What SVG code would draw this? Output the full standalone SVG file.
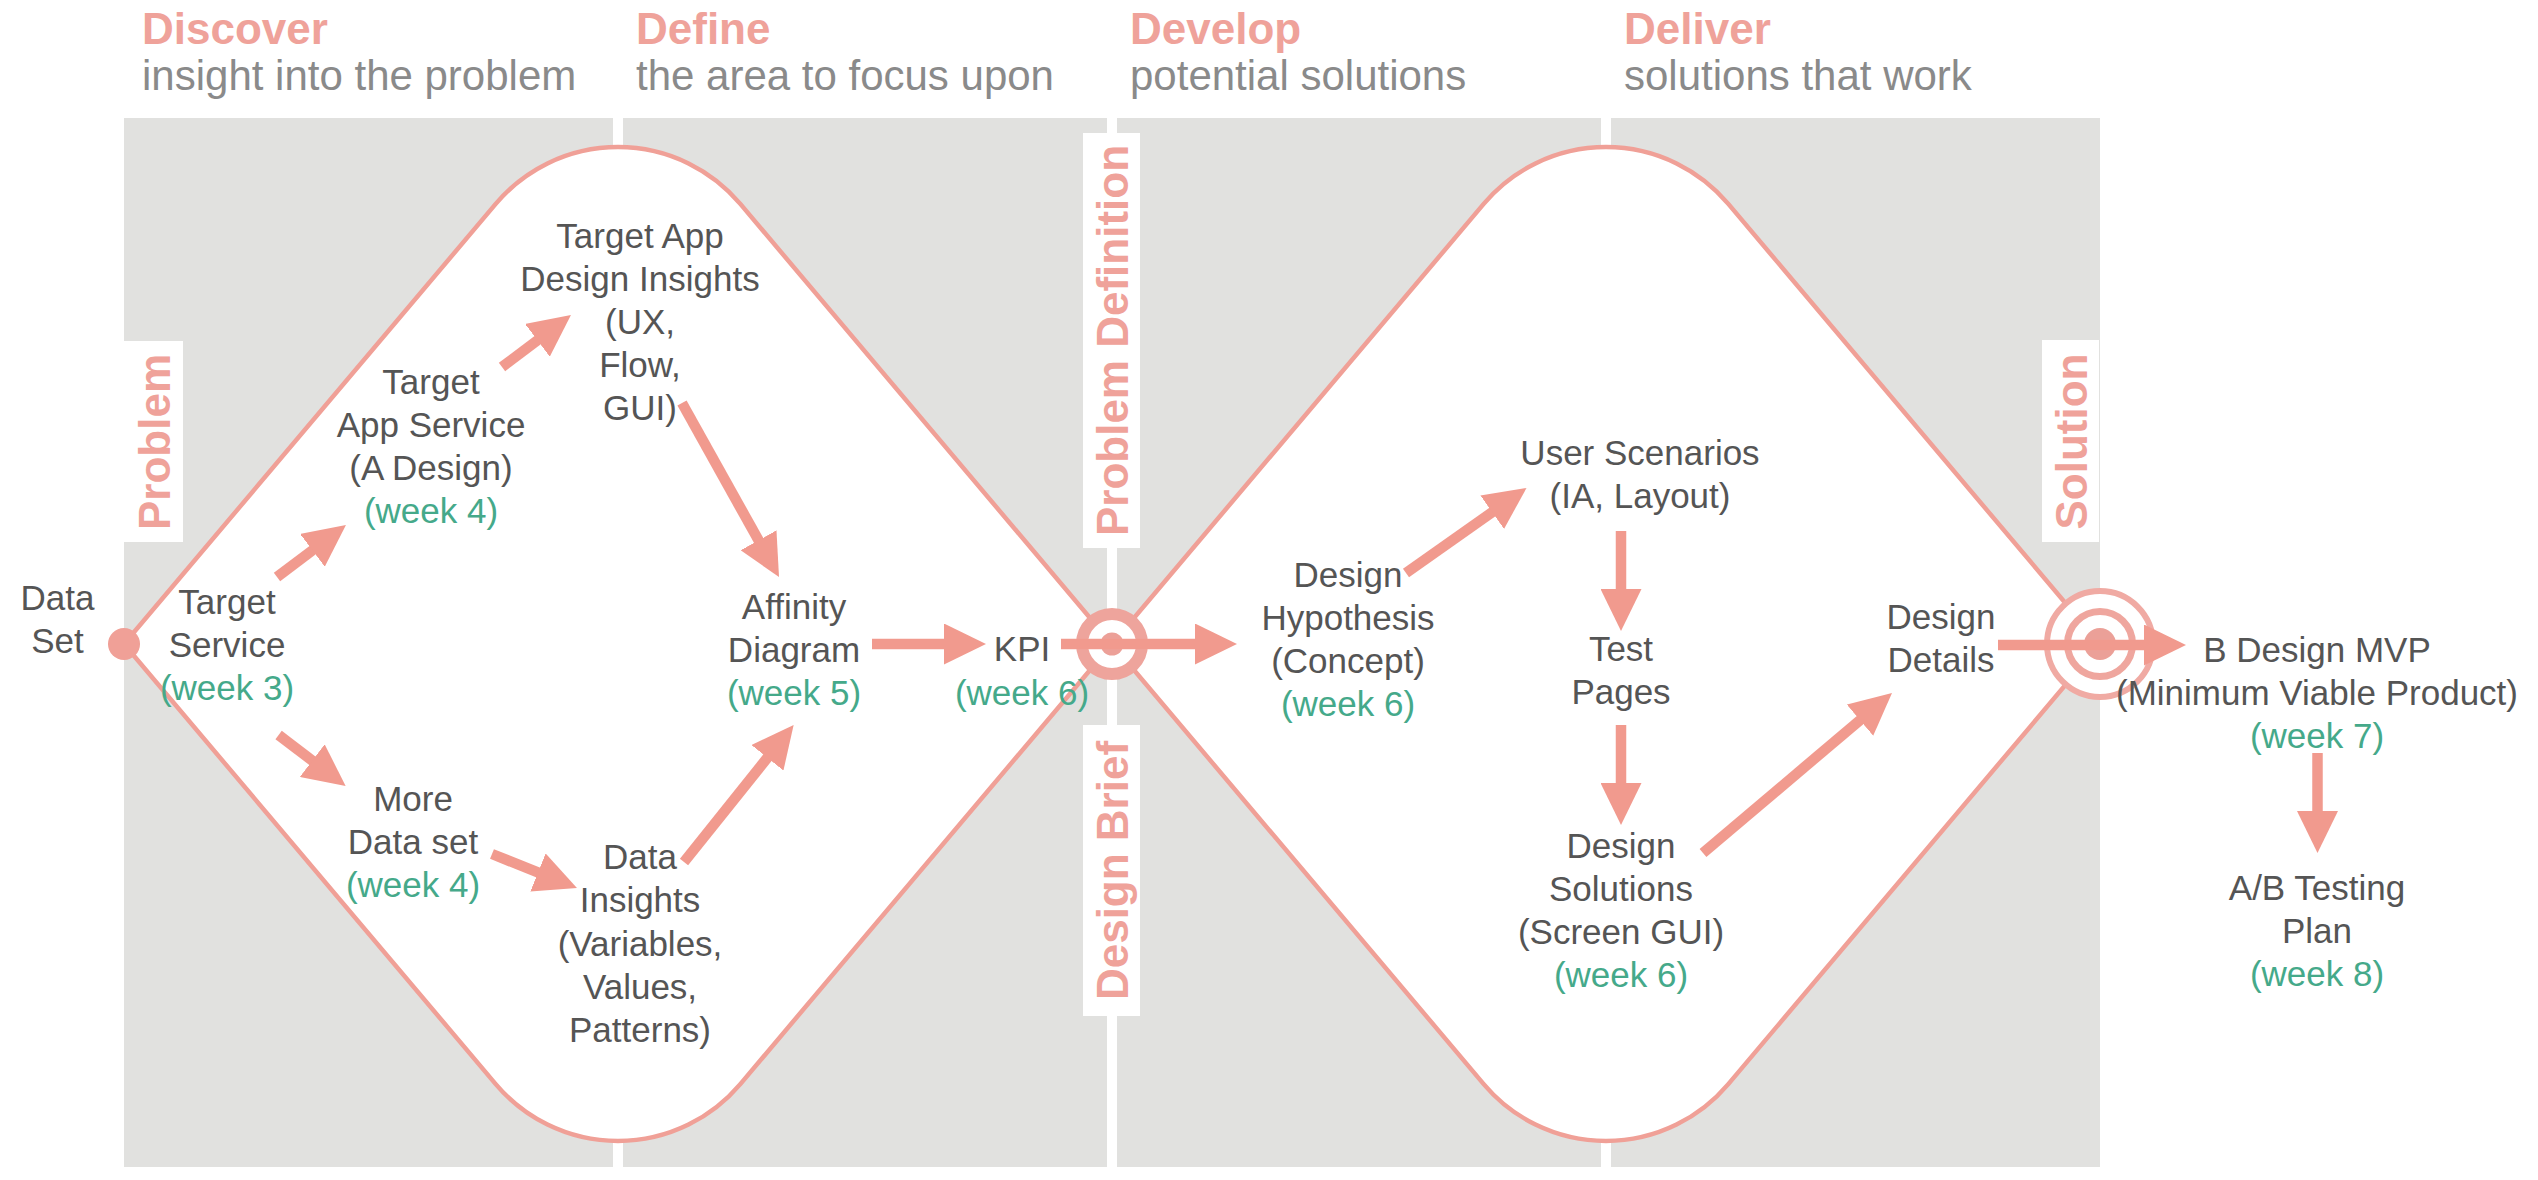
<svg xmlns="http://www.w3.org/2000/svg" width="2538" height="1180" viewBox="0 0 2538 1180">
  <style>
    text { font-family: "Liberation Sans", Arial, Helvetica, sans-serif; }
    .ph { font-size: 44px; font-weight: bold; fill: #efa29a; }
    .sub { font-size: 42px; fill: #8a8a8a; }
    .vl { font-size: 44px; font-weight: bold; fill: #efa29a; text-anchor: middle; }
    .vr { fill: #ffffff; }
    .n { font-size: 35px; fill: #555555; text-anchor: middle; }
    .wk { fill: #45a98a; }
    .dia { fill: #ffffff; stroke: #f0a097; stroke-width: 4.5; stroke-linejoin: round; }
    .div { fill: #ffffff; }
    .arr { stroke: #f19a8e; stroke-width: 10.5; fill: none; marker-end: url(#ah); }
  </style>
  <defs>
    <marker id="ah" markerUnits="userSpaceOnUse" viewBox="0 0 42 41" markerWidth="42" markerHeight="41" refX="12" refY="20.5" orient="auto">
      <path d="M0,0 L42,20.5 L0,41 Z" fill="#f19a8e"/>
    </marker>
  </defs>
  <rect width="2538" height="1180" fill="#ffffff"/>

  <g id="background">
    <rect x="124" y="118" width="1976" height="1049" fill="#e1e1df"/>
    <rect class="div" x="613" y="118" width="10" height="1049"/>
    <rect class="div" x="1107" y="118" width="10" height="1049"/>
    <rect class="div" x="1601" y="118" width="10" height="1049"/>
  </g>

  <g id="phases">
    <text class="ph" x="142" y="44">Discover</text>
    <text class="sub" x="142" y="90">insight into the problem</text>
    <text class="ph" x="636" y="44">Define</text>
    <text class="sub" x="636" y="90">the area to focus upon</text>
    <text class="ph" x="1130" y="44">Develop</text>
    <text class="sub" x="1130" y="90">potential solutions</text>
    <text class="ph" x="1624" y="44">Deliver</text>
    <text class="sub" x="1624" y="90">solutions that work</text>
  </g>

  <g id="diamonds">
    <path class="dia" d="M124 644 L495.7 203.9 A160 160 0 0 1 740.3 203.9 L1112 644 L740.3 1084.1 A160 160 0 0 1 495.7 1084.1 Z"/>
    <path class="dia" d="M1112 644 L1483.7 203.9 A160 160 0 0 1 1728.3 203.9 L2100 644 L1728.3 1084.1 A160 160 0 0 1 1483.7 1084.1 Z"/>
  </g>

  <g id="label-problem">
    <rect class="vr" x="124" y="341" width="59" height="201"/>
    <text class="vl" transform="translate(169.5,442) rotate(-90)">Problem</text>
  </g>
  <g id="label-problem-definition">
    <rect class="vr" x="1083" y="133" width="57" height="415"/>
    <text class="vl" transform="translate(1127.5,340.5) rotate(-90)">Problem Definition</text>
  </g>
  <g id="label-design-brief">
    <rect class="vr" x="1083" y="725" width="57" height="291"/>
    <text class="vl" transform="translate(1127.5,870.5) rotate(-90)">Design Brief</text>
  </g>
  <g id="label-solution">
    <rect class="vr" x="2042" y="340" width="57" height="202"/>
    <text class="vl" transform="translate(2086.5,441.5) rotate(-90)">Solution</text>
  </g>

  <g id="target-kpi">
    <circle cx="1112" cy="644" r="30" fill="#ffffff" stroke="#eea49c" stroke-width="12"/>
    <circle cx="1112" cy="644" r="11.5" fill="#eca098"/>
  </g>
  <g id="target-solution">
    <circle cx="2100" cy="644" r="53" fill="#ffffff" stroke="#f0aaa3" stroke-width="6"/>
    <circle cx="2100" cy="644" r="32.5" fill="none" stroke="#efa69e" stroke-width="7"/>
    <circle cx="2100" cy="644" r="16" fill="#eba098"/>
  </g>

  <g id="node-data-set">
    <circle cx="124" cy="644" r="16" fill="#f0a097"/>
    <text class="n" x="57.5" y="610">Data</text>
    <text class="n" x="57.5" y="653">Set</text>
  </g>

  <g id="connectors">
    <line class="arr" x1="277" y1="577" x2="322" y2="543.1"/>
    <line class="arr" x1="502" y1="367" x2="547" y2="333.1"/>
    <line class="arr" x1="278.6" y1="735" x2="321.8" y2="767.9"/>
    <line class="arr" x1="492" y1="854" x2="549.1" y2="876.9"/>
    <line class="arr" x1="684" y1="862" x2="774.9" y2="748.4"/>
    <line class="arr" x1="682" y1="403" x2="764.4" y2="550.8"/>
    <line class="arr" x1="872" y1="644" x2="956" y2="644"/>
    <line class="arr" x1="1061" y1="644" x2="1207" y2="644"/>
    <line class="arr" x1="1406" y1="573" x2="1502" y2="505.3"/>
    <line class="arr" x1="1621" y1="531" x2="1621" y2="601"/>
    <line class="arr" x1="1621" y1="725" x2="1621" y2="795"/>
    <line class="arr" x1="1703" y1="853" x2="1869.1" y2="712.4"/>
    <line class="arr" x1="1998" y1="645" x2="2156" y2="645"/>
    <line class="arr" x1="2317.5" y1="753" x2="2317.5" y2="823"/>
  </g>

  <g id="node-target-service">
    <text class="n" x="227" y="614">Target</text>
    <text class="n" x="227" y="657">Service</text>
    <text class="n wk" x="227" y="700">(week 3)</text>
  </g>
  <g id="node-target-app-service">
    <text class="n" x="431" y="394">Target</text>
    <text class="n" x="431" y="437">App Service</text>
    <text class="n" x="431" y="480">(A Design)</text>
    <text class="n wk" x="431" y="523">(week 4)</text>
  </g>
  <g id="node-design-insights">
    <text class="n" x="640" y="248">Target App</text>
    <text class="n" x="640" y="291">Design Insights</text>
    <text class="n" x="640" y="334">(UX,</text>
    <text class="n" x="640" y="377">Flow,</text>
    <text class="n" x="640" y="420">GUI)</text>
  </g>
  <g id="node-more-data">
    <text class="n" x="413" y="811">More</text>
    <text class="n" x="413" y="854">Data set</text>
    <text class="n wk" x="413" y="897">(week 4)</text>
  </g>
  <g id="node-data-insights">
    <text class="n" x="640" y="869">Data</text>
    <text class="n" x="640" y="912">Insights</text>
    <text class="n" x="640" y="956">(Variables,</text>
    <text class="n" x="640" y="999">Values,</text>
    <text class="n" x="640" y="1042">Patterns)</text>
  </g>
  <g id="node-affinity">
    <text class="n" x="794" y="619">Affinity</text>
    <text class="n" x="794" y="662">Diagram</text>
    <text class="n wk" x="794" y="705">(week 5)</text>
  </g>
  <g id="node-kpi">
    <text class="n" x="1022" y="661">KPI</text>
    <text class="n wk" x="1022" y="705">(week 6)</text>
  </g>
  <g id="node-hypothesis">
    <text class="n" x="1348" y="587">Design</text>
    <text class="n" x="1348" y="630">Hypothesis</text>
    <text class="n" x="1348" y="673">(Concept)</text>
    <text class="n wk" x="1348" y="716">(week 6)</text>
  </g>
  <g id="node-user-scenarios">
    <text class="n" x="1640" y="465">User Scenarios</text>
    <text class="n" x="1640" y="508">(IA, Layout)</text>
  </g>
  <g id="node-test-pages">
    <text class="n" x="1621" y="661">Test</text>
    <text class="n" x="1621" y="704">Pages</text>
  </g>
  <g id="node-design-solutions">
    <text class="n" x="1621" y="858">Design</text>
    <text class="n" x="1621" y="901">Solutions</text>
    <text class="n" x="1621" y="944">(Screen GUI)</text>
    <text class="n wk" x="1621" y="987">(week 6)</text>
  </g>
  <g id="node-design-details">
    <text class="n" x="1941" y="629">Design</text>
    <text class="n" x="1941" y="672">Details</text>
  </g>
  <g id="node-mvp">
    <text class="n" x="2317" y="662">B Design MVP</text>
    <text class="n" x="2317" y="705">(Minimum Viable Product)</text>
    <text class="n wk" x="2317" y="748">(week 7)</text>
  </g>
  <g id="node-ab-testing">
    <text class="n" x="2317" y="900">A/B Testing</text>
    <text class="n" x="2317" y="943">Plan</text>
    <text class="n wk" x="2317" y="986">(week 8)</text>
  </g>
</svg>
